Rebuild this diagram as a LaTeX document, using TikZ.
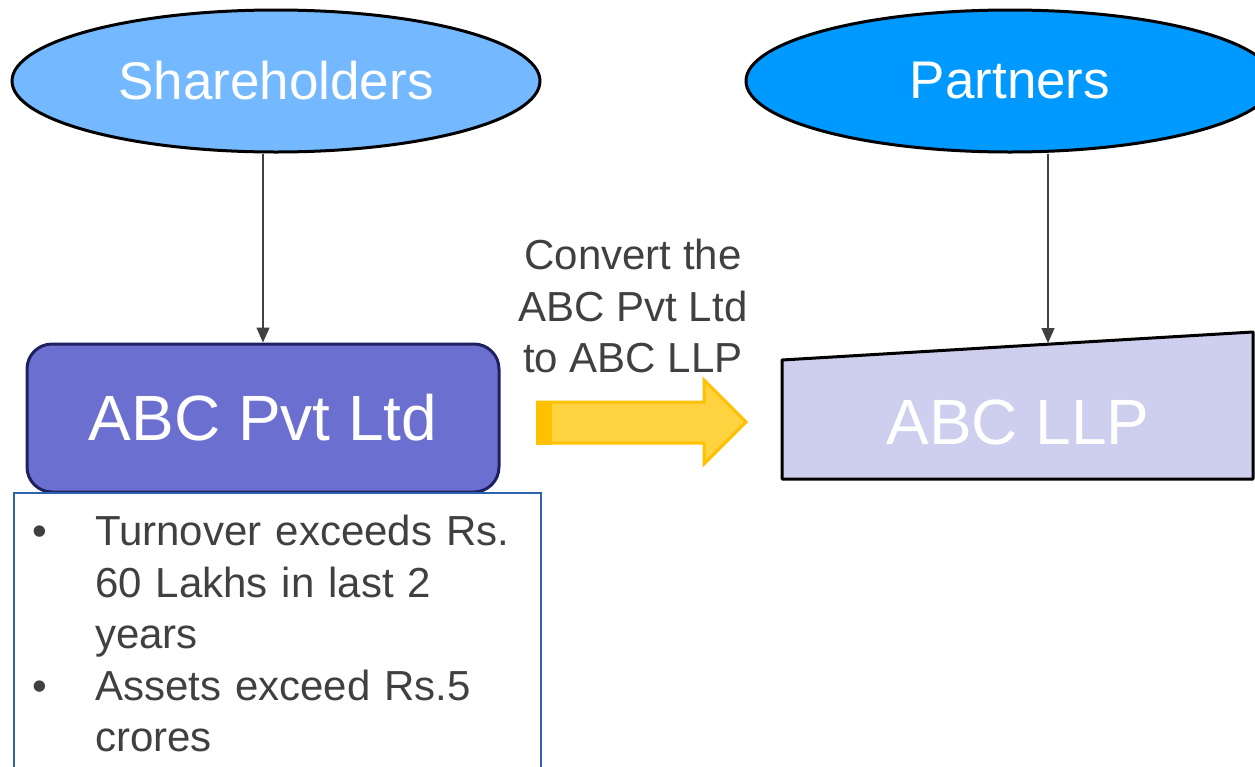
\documentclass[tikz,border=0pt]{standalone}
\usepackage{fontspec}
\setmainfont{Liberation Sans}
\usetikzlibrary{arrows.meta,positioning,calc,shapes.geometric}

\definecolor{holderblue}{HTML}{74B8FF}
\definecolor{partnerblue}{HTML}{0099FF}
\definecolor{pvtfill}{HTML}{6B70D0}
\definecolor{pvtline}{HTML}{1F2060}
\definecolor{llpfill}{HTML}{CECEEE}
\definecolor{framblue}{HTML}{2E63B0}
\definecolor{textgray}{HTML}{404040}
\definecolor{convfill}{HTML}{FFD340}
\definecolor{convline}{HTML}{FFC000}

\newcommand{\ovalfont}{\fontsize{53}{64}\selectfont}
\newcommand{\boxfont}{\fontsize{64}{77}\selectfont}
\newcommand{\notefont}{\fontsize{42}{51.5}\selectfont}

\begin{document}
\begin{tikzpicture}[x=1pt, y=-1pt,
    owner/.style={ellipse, draw=black, line width=3pt, minimum width=528pt,
        minimum height=142pt, inner sep=0pt, text=white, font=\ovalfont},
    link/.style={draw=textgray, line width=1.5pt, -{Triangle[length=15pt,width=13pt]}}]
    \useasboundingbox (0,0) rectangle (1255,766);

    % Owners
    \node[owner, fill=holderblue] (holders) at (276,81) {Shareholders};
    \node[owner, fill=partnerblue] (partners) at (1010,81) {Partners};

    % Company
    \node[draw=pvtline, fill=pvtfill, line width=3pt, rounded corners=25pt,
        minimum width=472pt, minimum height=148pt, text=white, font=\boxfont]
        (pvtltd) at (263,418) {ABC Pvt Ltd};
    \draw[link] (pvtltd.north |- holders.south) -- (pvtltd.north);

    % Conditions
    \node[draw=framblue, line width=1.5pt, minimum width=527pt, minimum height=320pt,
        anchor=north west, inner sep=0pt] (factframe) at (13,492) {};
    \node[anchor=north west, inner sep=0pt, text width=500pt, text=textgray,
        font=\notefont, align=left] (facts) at ($(factframe.north west)+(0,2)$) {%
        \begin{list}{\textbullet}{\leftmargin=82pt \labelwidth=20pt \labelsep=48pt
            \topsep=0pt \partopsep=0pt \parsep=0pt \itemsep=0pt}
        \item Turnover exceeds Rs.\\ 60 Lakhs in last 2\\ years
        \item Assets exceed Rs.5\\ crores
        \end{list}};

    % Conversion
    \node[text=textgray, font=\notefont, align=center] (convert) at (633,306)
        {Convert the\\ ABC Pvt Ltd\\ to ABC LLP};
    \draw[convline, fill=convfill, line width=3pt, line join=miter]
        (538,402) -- (704,402) -- (704,380) -- (746,422) -- (704,464)
        -- (704,443) -- (538,443) -- cycle;
    \fill[convline] (536,400.5) rectangle (552,444.5);

    % LLP
    \draw[fill=llpfill, line width=3pt, line join=round]
        (782,360) -- (1253,332) -- (1253,479) -- (782,479) -- cycle;
    \node[text=white, font=\boxfont] (llp) at (1018,422) {ABC LLP};
    \coordinate (llptop) at (1048,343);
    \draw[link] (llptop |- partners.south) -- (llptop);
\end{tikzpicture}
\end{document}
